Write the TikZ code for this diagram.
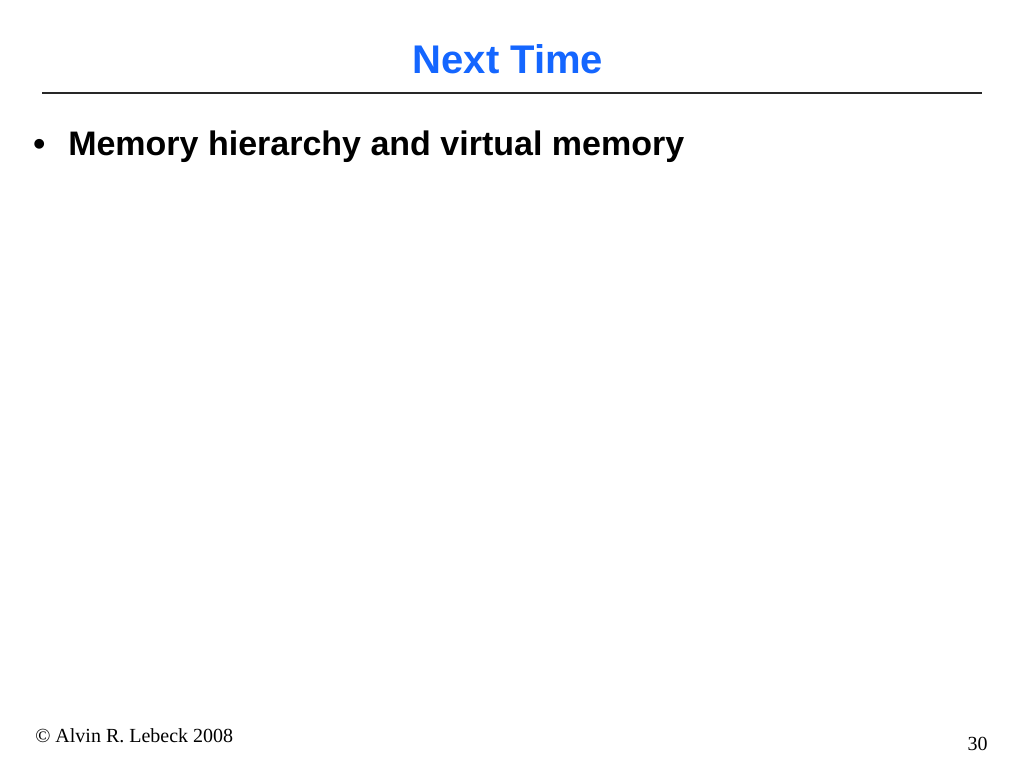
\documentclass[tikz,border=0pt]{standalone}
\usepackage{fontspec}
\setmainfont{Liberation Serif}
\newfontfamily\arialfont{Liberation Sans}
\definecolor{titleblue}{RGB}{20,102,255}
\definecolor{rulegray}{RGB}{40,40,40}
\tikzset{
  px/.style={x=0.75pt,y=-0.75pt},
  titletext/.style={font=\arialfont\bfseries\fontsize{30}{36}\selectfont, text=titleblue, inner sep=0pt, anchor=base},
  bodytext/.style={font=\arialfont\bfseries\fontsize{25.5}{30}\selectfont, inner sep=0pt, anchor=base west},
  foottext/.style={font=\fontsize{15}{18}\selectfont, inner sep=0pt},
}
\begin{document}
\begin{tikzpicture}[px]
\useasboundingbox[fill=white] (0,0) rectangle (1024,768);
\node[titletext] (title) at (508,73) {Next Time};
\coordinate (ruleL) at (42,93);
\coordinate (ruleR) at (982,93);
\draw[rulegray, line width=1.5pt] (ruleL) -- (ruleR);
\node[bodytext] (bullet) at (33,155) {•};
\node[bodytext] (item) at (68,155) {Memory hierarchy and virtual memory};
\node[foottext, anchor=base west] (copy) at (35,742) {© Alvin R. Lebeck 2008};
\node[foottext, anchor=base east] (page) at (988,750) {30};
\end{tikzpicture}
\end{document}
